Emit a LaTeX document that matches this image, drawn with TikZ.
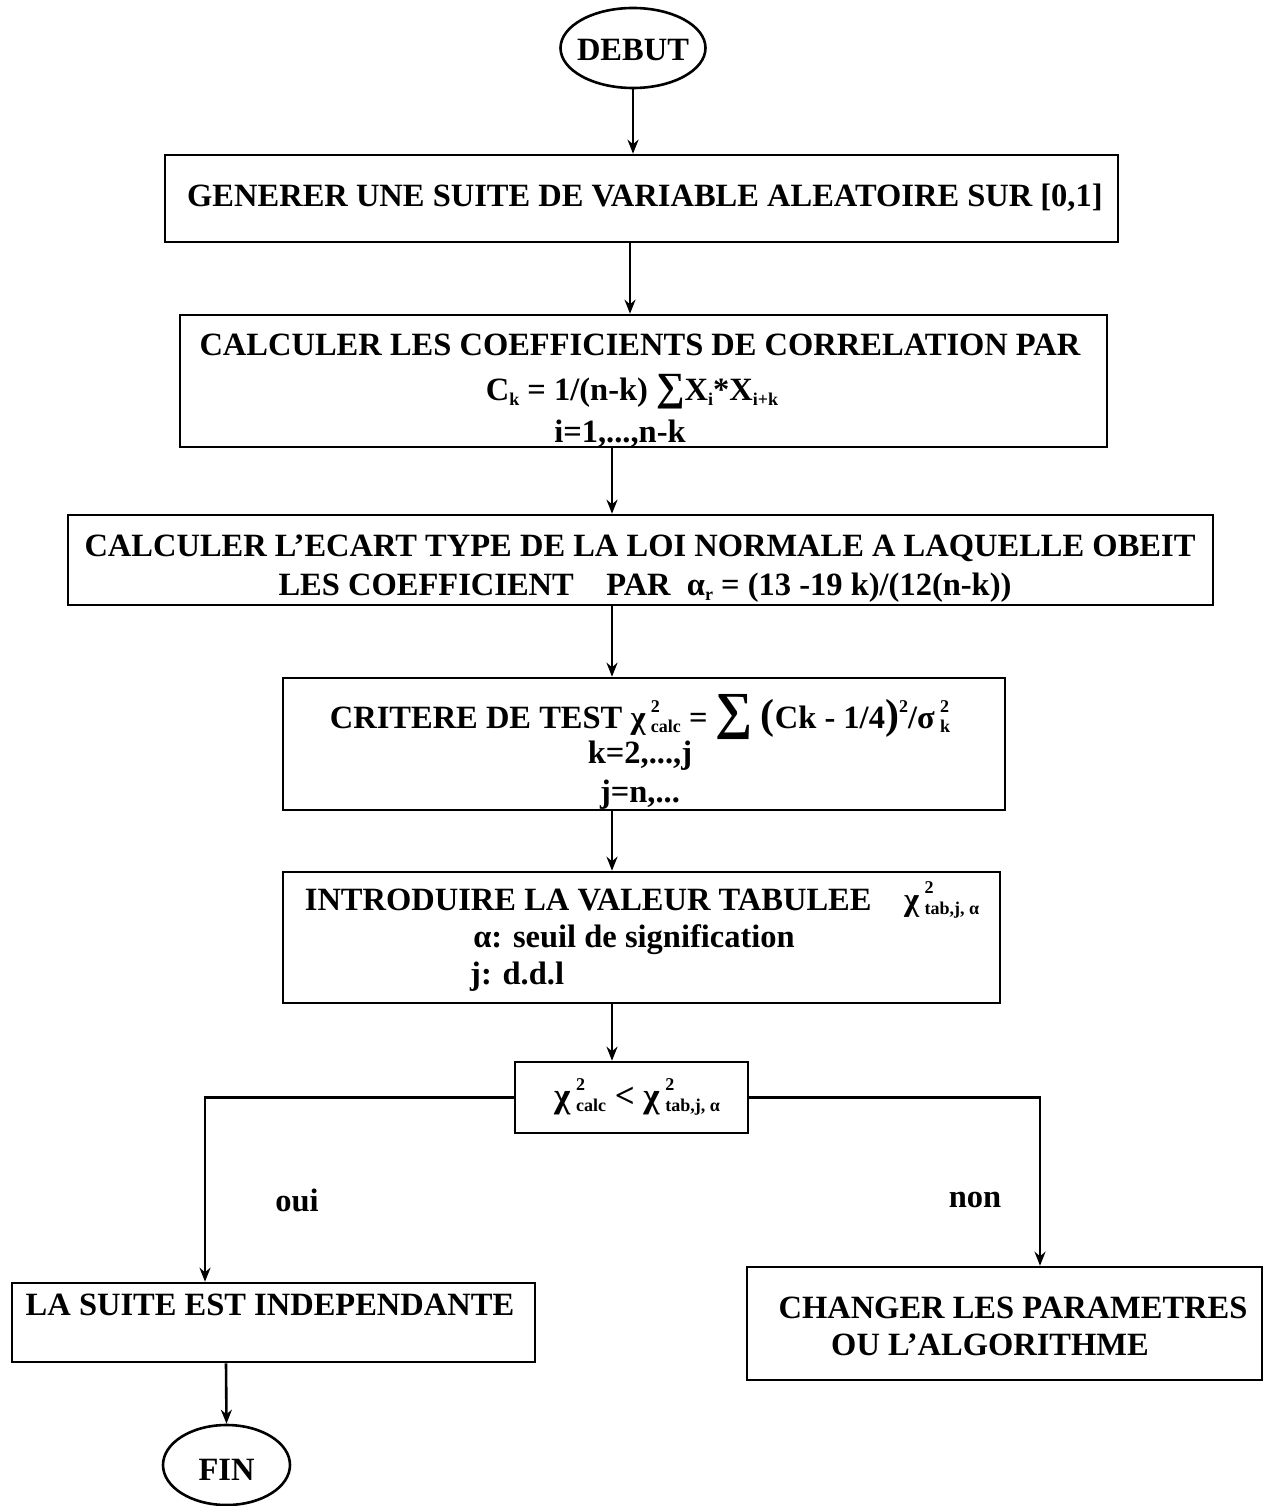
\documentclass[tikz,border=0pt]{standalone}
\usepackage{fontspec}
\setmainfont{Liberation Serif}
\usetikzlibrary{shapes.geometric,arrows.meta}
\newcommand{\sps}[1]{\raisebox{0.5em}{\fontsize{18}{18}\selectfont #1}}
\newcommand{\sbs}[1]{\raisebox{-0.15em}{\fontsize{18}{18}\selectfont #1}}
\newcommand{\ssb}[2]{\,\makebox[0pt][l]{\raisebox{0.5em}{\fontsize{18}{18}\selectfont #1}}\raisebox{-0.12em}{\fontsize{18}{18}\selectfont #2}}
\begin{document}
\begin{tikzpicture}[x=1pt,y=-1pt,
  box/.style={draw, line width=2.6pt, inner sep=0pt},
  term/.style={draw, ellipse, line width=2.6pt, inner sep=0pt},
  txt/.style={font=\fontsize{32.5}{36}\selectfont\bfseries, inner sep=0pt},
  arr/.style={line width=2.6pt, -{Stealth[length=14pt,width=11pt]}}]
\useasboundingbox (0,0) rectangle (1266,1506);
% terminals
\node[term, minimum width=145pt, minimum height=80pt] (debut) at (633,48) {};
\node[txt] at (633,50) {DEBUT};
% boxes
\node[box, minimum width=953pt, minimum height=87pt] (b1) at (641.5,198.5) {};
\node[box, minimum width=927pt, minimum height=132pt] (b2) at (643.5,381) {};
\node[box, minimum width=1145pt, minimum height=90pt] (b3) at (640.5,560) {};
\node[box, minimum width=722pt, minimum height=132pt] (b4) at (644,744) {};
\node[box, minimum width=717pt, minimum height=131pt] (b5) at (641.5,937.5) {};
\node[box, minimum width=233pt, minimum height=71pt] (b6) at (631.5,1097.5) {};
\node[box, minimum width=523pt, minimum height=79pt] (b7) at (273.5,1322.5) {};
\node[box, minimum width=515pt, minimum height=113pt] (b8) at (1004.5,1323.5) {};
\node[term, minimum width=127pt, minimum height=80pt] (fin) at (226.5,1465) {};
\node[txt] at (226.5,1470) {FIN};
% texts
\node[txt] at (645,198) {GENERER UNE SUITE DE VARIABLE ALEATOIRE SUR [0,1]};
\node[txt] at (640,345) {CALCULER LES COEFFICIENTS DE CORRELATION PAR};
\node[txt] at (632,392) {C\sbs{k} = 1/(n-k) {\fontsize{40}{40}\selectfont ∑}X\sbs{i}*X\sbs{i+k}};
\node[txt] at (620,434) {i=1,...,n-k};
\node[txt] at (640,548) {CALCULER L'ECART TYPE DE LA LOI NORMALE A LAQUELLE OBEIT};
\node[txt] at (645,588) {LES COEFFICIENT\quad PAR\ \ α\sbs{r} = (13 -19 k)/(12(n-k))};
\node[txt] at (640,717) {CRITERE DE TEST χ\ssb{2}{calc} = {\fontsize{52}{52}\selectfont ∑} {\fontsize{42}{42}\selectfont (}Ck - 1/4{\fontsize{42}{42}\selectfont )}\sps{2}/σ\ssb{2}{k}};
\node[txt] at (640,756) {k=2,...,j};
\node[txt] at (640,795) {j=n,...};
\node[txt] at (642,900) {INTRODUIRE LA VALEUR TABULEE\quad χ\ssb{2}{tab,j, α}};
\node[txt] at (634,940) {α: seuil de signification};
\node[txt, anchor=west] at (470,977) {j: d.d.l};
\node[txt] at (637,1097) {\fontsize{35}{36}\selectfont χ\ssb{2}{calc} < χ\ssb{2}{tab,j, α}};
\node[txt] (oui) at (297,1200) {oui};
\node[txt] (non) at (975,1200) {non};
\node[txt] at (270,1305) {LA SUITE EST INDEPENDANTE};
\node[txt] at (1013,1308) {CHANGER LES PARAMETRES};
\node[txt] at (990,1345) {OU L'ALGORITHME};
% connector x positions
\coordinate (x1) at (630,0);
\coordinate (x2) at (612,0);
\coordinate (xl) at (205,0);
\coordinate (xr) at (1040,0);
\coordinate (xf) at (226,0);
% connectors
\draw[arr] (debut.south) -- (debut.south |- b1.north);
\draw[arr] (b1.south -| x1) -- (b2.north -| x1);
\draw[arr] (b2.south -| x2) -- (b3.north -| x2);
\draw[arr] (b3.south -| x2) -- (b4.north -| x2);
\draw[arr] (b4.south -| x2) -- (b5.north -| x2);
\draw[arr] (b5.south -| x2) -- (b6.north -| x2);
\draw[arr] (b6.west) -| (b7.north -| xl);
\draw[arr] (b6.east) -| (b8.north -| xr);
\draw[arr] (b7.south -| xf) -- (fin.north);
\end{tikzpicture}
\end{document}
